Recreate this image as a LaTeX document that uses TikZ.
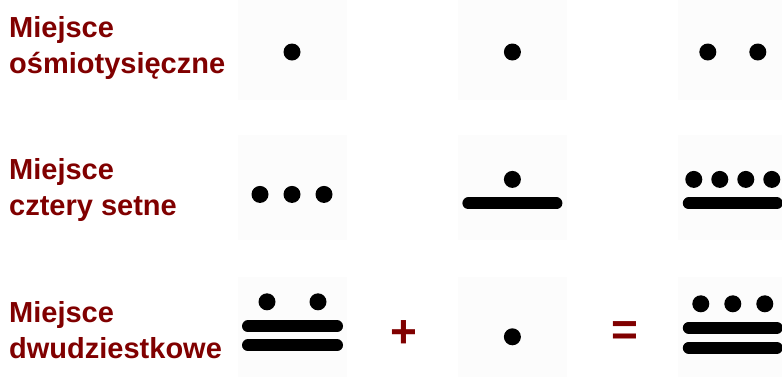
\documentclass[tikz,border=0pt]{standalone}
\usepackage{fontspec}
\setmainfont{Liberation Sans}
\usetikzlibrary{positioning}
\definecolor{placered}{RGB}{128,0,0}
\definecolor{boxgray}{RGB}{252,252,252}

\begin{document}
\begin{tikzpicture}[x=1pt,y=-1pt,node distance=35pt and 111pt,
  numbox/.style={fill=boxgray,minimum width=109pt,minimum height=105pt,inner sep=0pt},
  place/.style={anchor=north west,inner sep=0pt,align=left,text=placered,font=\bfseries\fontsize{29}{36}\selectfont},
  op/.style={text=placered,inner sep=0pt,font=\bfseries\fontsize{46}{46}\selectfont},
  mdot/.style={fill=black},
  mbar/.style={line width=12pt,line cap=round}]
\useasboundingbox (0,0) rectangle (782,376);
% boxes for the numerals
\node[numbox] (b11) at (292,47.5) {};
\node[numbox,right=of b11] (b12) {};
\node[numbox,right=of b12] (b13) {};
\node[numbox,below=of b11] (b21) {};
\node[numbox,right=of b21] (b22) {};
\node[numbox,right=of b22] (b23) {};
\node[numbox,below=36pt of b21] (b31) {};
\node[numbox,right=of b31] (b32) {};
\node[numbox,right=of b32] (b33) {};
% place names
\node[place] (l1) at (9,16) {Miejsce\\ośmiotysięczne};
\node[place] (l2) at (9,158) {Miejsce\\cztery setne};
\node[place] (l3) at (9,301) {Miejsce\\dwudziestkowe};
\node[op] (plus) at (404,334) {+};
\node[op] (eq) at (625,334) {=};
% row 1
\begin{scope}[shift={(b11.center)}]
  \fill[mdot] (0,4.5) circle (8.5);
\end{scope}
\begin{scope}[shift={(b12.center)}]
  \fill[mdot] (0,4.5) circle (8.5);
\end{scope}
\begin{scope}[shift={(b13.center)}]
  \fill[mdot] (-25,4.5) circle (8.5) (25,4.5) circle (8.5);
\end{scope}
% row 2
\begin{scope}[shift={(b21.center)}]
  \foreach \x in {-32,0,32} \fill[mdot] (\x,6.5) circle (8.5);
\end{scope}
\begin{scope}[shift={(b22.center)}]
  \fill[mdot] (0,-8.5) circle (8.5);
  \draw[mbar] (-44,15.5) -- (44,15.5);
\end{scope}
\begin{scope}[shift={(b23.center)}]
  \foreach \x in {-39,-13,13,39} \fill[mdot] (\x,-8.5) circle (8.5);
  \draw[mbar] (-44,15.5) -- (44,15.5);
\end{scope}
% row 3
\begin{scope}[shift={(b31.center)}]
  \foreach \x in {-25,26} \fill[mdot] (\x,-27.5) circle (8.5);
  \draw[mbar] (-44,-3) -- (45,-3);
  \draw[mbar] (-44,16) -- (45,16);
\end{scope}
\begin{scope}[shift={(b32.center)}]
  \fill[mdot] (0,7.5) circle (8.5);
\end{scope}
\begin{scope}[shift={(b33.center)}]
  \foreach \x in {-32,0,32} \fill[mdot] (\x,-25.5) circle (8.5);
  \draw[mbar] (-44,-1.5) -- (44,-1.5);
  \draw[mbar] (-44,18.5) -- (44,18.5);
\end{scope}
\end{tikzpicture}
\end{document}
